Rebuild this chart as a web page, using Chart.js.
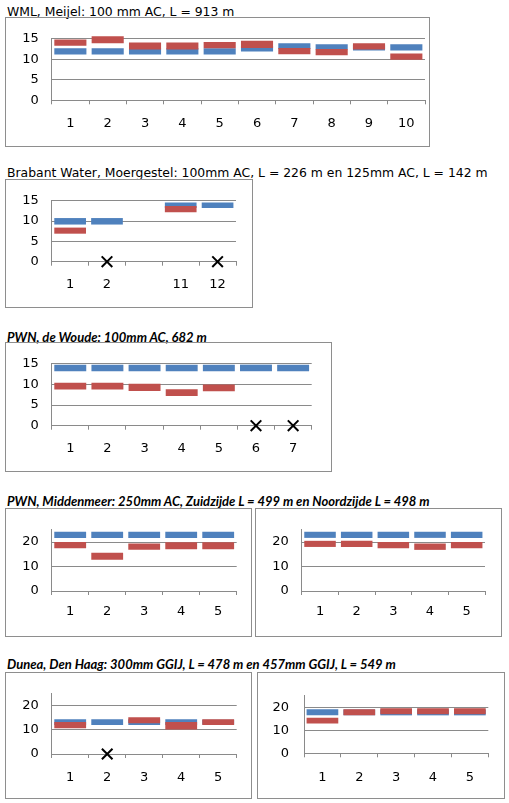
<!DOCTYPE html>
<html>
<head>
<meta charset="utf-8">
<script src="https://cdn.jsdelivr.net/npm/chart.js@4.4.1/dist/chart.umd.min.js"></script>
<style>
  body { margin: 0; background: #fff; width: 509px; height: 803px; position: relative; overflow: hidden; }
  .title { position: absolute; left: 7px; white-space: nowrap; color: #000; line-height: 14px; }
  .t-verd { font: 12.4px "DejaVu Sans", Verdana, sans-serif; }
  .t-cal { font: italic bold 13px Lato, sans-serif; }
  .box { position: absolute; border: 1px solid #8e8e8e; box-sizing: border-box; }
  .box canvas { position: absolute; left: 0; top: 0; }
</style>
</head>
<body>
<div class="title t-verd" style="top:3.5px">WML, Meijel: 100 mm AC, L = 913 m</div>
<div class="box" id="wml"><canvas></canvas></div>

<div class="title t-verd" style="top:165px">Brabant Water, Moergestel: 100mm AC, L = 226 m en 125mm AC, L = 142 m</div>
<div class="box" id="brabant"><canvas></canvas></div>

<div class="title t-cal" style="top:329px">PWN, de Woude: 100mm AC, 682 m</div>
<div class="box" id="woude"><canvas></canvas></div>

<div class="title t-cal" style="top:493px">PWN, Middenmeer: 250mm AC, Zuidzijde L = 499 m en Noordzijde L = 498 m</div>
<div class="box" id="zuid"><canvas></canvas></div>
<div class="box" id="noord"><canvas></canvas></div>

<div class="title t-cal" style="top:656px">Dunea, Den Haag: 300mm GGIJ, L = 478 m en 457mm GGIJ, L = 549 m</div>
<div class="box" id="dunea300"><canvas></canvas></div>
<div class="box" id="dunea457"><canvas></canvas></div>

<script>
const BLUE = '#4f81bd';
const RED = '#c0504d';
const GRID = '#8a8a8a';

const yTicks15 = [0, 5, 10, 15];
const yTicks25 = [0, 10, 20];

// WML, Meijel
const wmlLabels = ['1', '2', '3', '4', '5', '6', '7', '8', '9', '10'];
const wmlBlue = [[11.2, 12.7], [11.2, 12.7], [11.2, 12.7], [11.2, 12.7], [11.2, 12.7],
                 [11.9, 13.3], [12.5, 13.9], [12.4, 13.65], [12.15, 13.5], [12.15, 13.65]];
const wmlRed = [[13.3, 14.85], [13.9, 15.6], [12.4, 14.1], [12.4, 14.1], [12.7, 14.25],
                [12.75, 14.55], [11.25, 12.75], [11.0, 12.5], [12.4, 13.9], [9.9, 11.4]];

// Brabant Water, Moergestel
const brabantLabels = ['1', '2', '', '11', '12'];
const brabantBlue = [[9.15, 10.75], [9.15, 10.75], null, [13.2, 14.6], [13.2, 14.6]];
const brabantRed = [[6.9, 8.4], null, null, [12.2, 13.7], null];
const brabantMissing = [null, 0, null, null, 0];

// PWN, de Woude
const woudeLabels = ['1', '2', '3', '4', '5', '6', '7'];
const woudeBlue = [[13.2, 14.8], [13.2, 14.8], [13.2, 14.8], [13.2, 14.8], [13.2, 14.8], [13.2, 14.8], [13.2, 14.8]];
const woudeRed = [[8.8, 10.4], [8.8, 10.4], [8.4, 10.15], [7.2, 8.85], [8.35, 10.0], null, null];
const woudeMissing = [null, null, null, null, null, 0, 0];

// PWN, Middenmeer
const middenLabels = ['1', '2', '3', '4', '5'];
const zuidBlue = [[21.7, 24.2], [21.7, 24.2], [21.7, 24.2], [21.7, 24.2], [21.7, 24.2]];
const zuidRed = [[17.5, 20], [12.8, 15.65], [16.8, 19.4], [17.1, 19.9], [17.1, 19.9]];
const noordBlue = [[21.7, 24.2], [21.7, 24.2], [21.7, 24.2], [21.7, 24.2], [21.7, 24.2]];
const noordRed = [[18, 20.5], [18, 20.5], [17.5, 20], [16.8, 19.4], [17.5, 20]];

// Dunea, Den Haag
const duneaLabels = ['1', '2', '3', '4', '5'];
const dunea300Blue = [[12, 14.4], [12, 14.4], [12, 14.4], [12, 14.4], [12.2, 14.2]];
const dunea300Red = [[10.7, 13.25], null, [12.75, 15.3], [10.2, 13.25], [12, 14.4]];
const dunea300Missing = [null, 0, null, null, null];
const dunea457Blue = [[16.5, 19.1], [16.5, 19.0], [16.5, 19.0], [16.5, 19.0], [16.5, 19.0]];
const dunea457Red = [[13.0, 15.5], [16.5, 19.1], [17.0, 19.6], [17.0, 19.6], [17.0, 19.6]];

const tickFont = { family: 'DejaVu Sans', size: 13 };

// box: [left, top, width, height]; plot: absolute page coords of the plot area
function drawPanel(id, layout, labels, blue, red, missing, yTicks, yMax) {
    const box = document.getElementById(id);
    const [bl, bt, bw, bh] = layout.box;
    box.style.left = bl + 'px';
    box.style.top = bt + 'px';
    box.style.width = bw + 'px';
    box.style.height = bh + 'px';

    const canvas = box.querySelector('canvas');
    const cx = bl + 1, cy = bt + 1, cw = bw - 2, ch = bh - 2;
    canvas.width = cw;
    canvas.height = ch;
    const p = layout.plot;

    const bar = { grouped: false, barPercentage: 0.86, categoryPercentage: 1, borderWidth: 0, clip: false };
    const datasets = [
        Object.assign({ data: blue, backgroundColor: BLUE, order: 2 }, bar),
        Object.assign({ data: red, backgroundColor: RED, order: 1 }, bar)
    ];
    if (missing) {
        datasets.push({
            type: 'line', data: missing, showLine: false, order: 0, clip: false,
            pointStyle: 'crossRot', pointRadius: 7.5, pointBorderWidth: 2,
            pointBorderColor: '#000', pointBackgroundColor: '#000'
        });
    }

    new Chart(canvas, {
        type: 'bar',
        data: { labels: labels, datasets: datasets },
        options: {
            responsive: false,
            animation: false,
            layout: { padding: { left: 0, top: p.T - cy, right: cx + cw - p.R, bottom: 0 } },
            plugins: { legend: { display: false }, tooltip: { enabled: false } },
            scales: {
                x: {
                    grid: { drawOnChartArea: false, tickLength: 4, color: GRID },
                    border: { color: GRID },
                    ticks: { font: tickFont, color: '#000', maxRotation: 0, autoSkip: false,
                             padding: (p.labelY - p.B) - 4 - 7.8 },
                    afterFit: s => { s.height = cy + ch - p.B; }
                },
                y: {
                    min: 0,
                    max: yMax,
                    grid: { color: GRID, drawTicks: false },
                    border: { color: GRID },
                    ticks: { font: tickFont, color: '#000', padding: layout.yPad },
                    afterBuildTicks: s => { s.ticks = yTicks.map(v => ({ value: v })); },
                    afterFit: s => { s.width = p.L - cx; }
                }
            }
        }
    });
}

drawPanel('wml', { box: [5, 17, 425, 130], plot: { L: 51.7, R: 425, T: 34.3, B: 100.3, labelY: 123.3 }, yPad: 13 },
    wmlLabels, wmlBlue, wmlRed, null, yTicks15, 15);
drawPanel('brabant', { box: [5, 179, 248, 129], plot: { L: 51.7, R: 236, T: 196.7, B: 261.7, labelY: 285 }, yPad: 13 },
    brabantLabels, brabantBlue, brabantRed, brabantMissing, yTicks15, 15);
drawPanel('woude', { box: [5, 342, 327, 130], plot: { L: 51.7, R: 311.7, T: 359.7, B: 425.7, labelY: 449 }, yPad: 13 },
    woudeLabels, woudeBlue, woudeRed, woudeMissing, yTicks15, 15);
drawPanel('zuid', { box: [5, 508, 247, 129], plot: { L: 51.7, R: 236.7, T: 524, B: 591, labelY: 612 }, yPad: 13 },
    middenLabels, zuidBlue, zuidRed, null, yTicks25, 25);
drawPanel('noord', { box: [255, 508, 247, 129], plot: { L: 301.7, R: 485, T: 524, B: 591, labelY: 612 }, yPad: 13 },
    middenLabels, noordBlue, noordRed, null, yTicks25, 25);
drawPanel('dunea300', { box: [5, 672, 247, 127], plot: { L: 51.7, R: 236.7, T: 688.5, B: 754, labelY: 778 }, yPad: 13 },
    duneaLabels, dunea300Blue, dunea300Red, dunea300Missing, yTicks25, 25);
drawPanel('dunea457', { box: [257, 672, 248, 127], plot: { L: 304, R: 488.3, T: 688.3, B: 753.3, labelY: 778 }, yPad: 15 },
    duneaLabels, dunea457Blue, dunea457Red, null, yTicks25, 25);
</script>
</body>
</html>
